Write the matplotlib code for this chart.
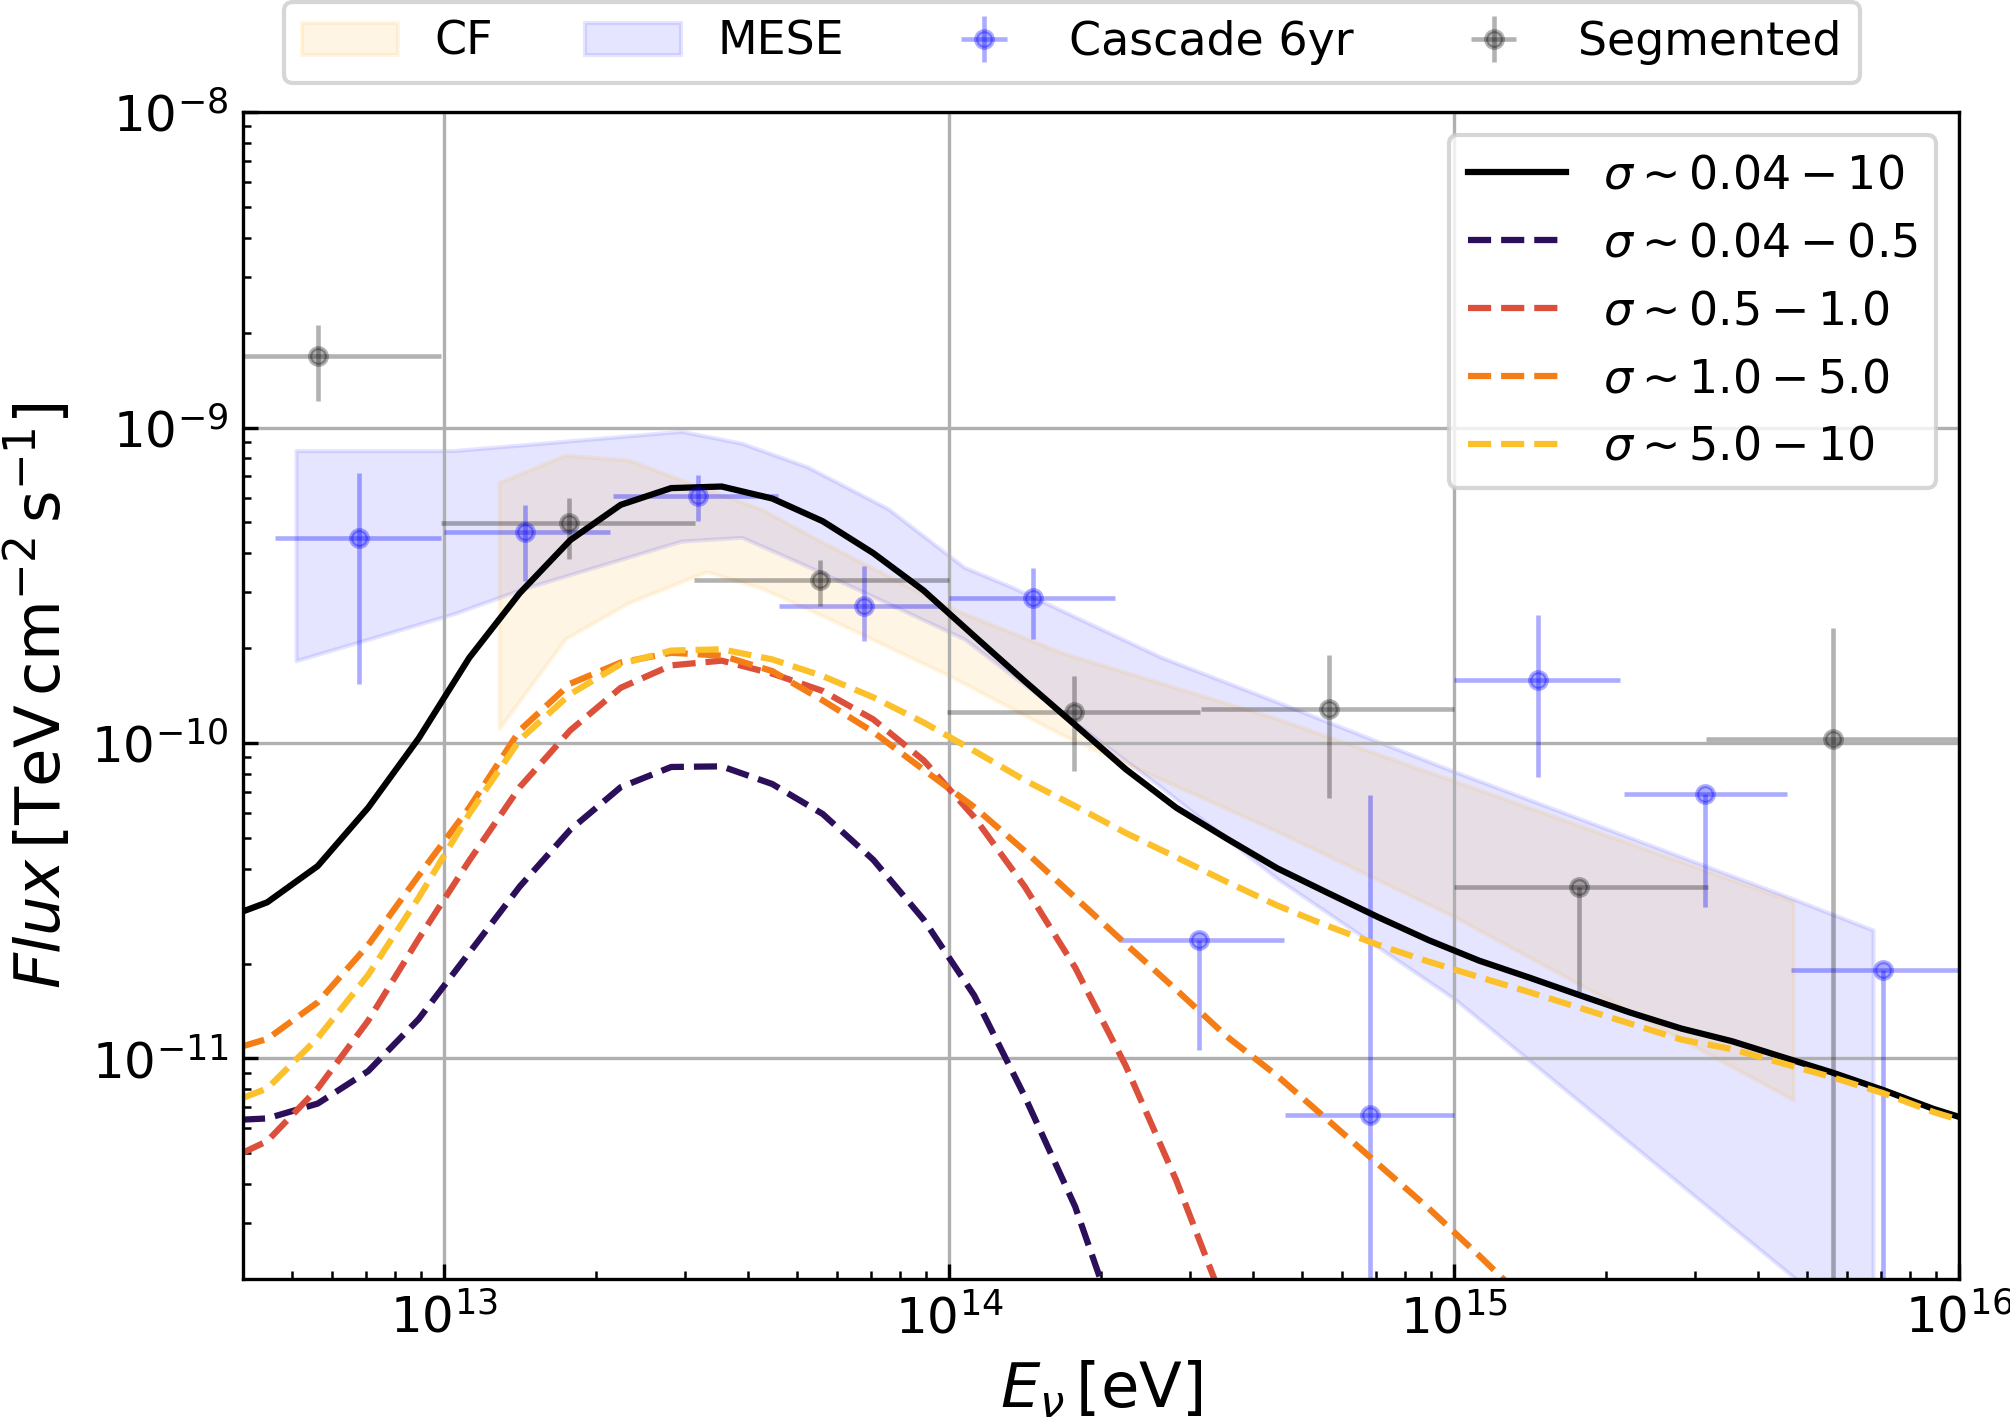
import numpy as np
import matplotlib.pyplot as plt

# model curves: log10(E / eV) grid and log10(flux)
log_e = [12.60, 12.65, 12.75, 12.85, 12.95, 13.05, 13.15, 13.25, 13.35, 13.45,
         13.55, 13.65, 13.75, 13.85, 13.95, 14.05, 14.15, 14.25, 14.35, 14.45,
         14.55, 14.65, 14.75, 14.85, 14.95, 15.05, 15.15, 15.25, 15.35, 15.45,
         15.55, 15.65, 15.75, 15.85, 15.95, 16.00]

flux_total = [-10.535, -10.505, -10.39, -10.205, -9.985, -9.73, -9.525, -9.357, -9.245, -9.192,
              -9.187, -9.225, -9.297, -9.398, -9.517, -9.661, -9.804, -9.943, -10.083, -10.205,
              -10.303, -10.397, -10.475, -10.552, -10.625, -10.69, -10.744, -10.80, -10.855, -10.905,
              -10.945, -10.995, -11.045, -11.10, -11.16, -11.185]
flux_s1 = [-11.194, -11.19, -11.143, -11.04, -10.875, -10.665, -10.455, -10.275, -10.14, -10.076,
           -10.074, -10.13, -10.225, -10.37, -10.56, -10.80, -11.12, -11.47, -11.93]
flux_s2 = [-11.30, -11.262, -11.095, -10.88, -10.62, -10.373, -10.14, -9.96, -9.825, -9.754,
           -9.739, -9.78, -9.835, -9.925, -10.055, -10.235, -10.455, -10.712, -11.023, -11.386,
           -11.80]
flux_s3 = [-10.962, -10.938, -10.822, -10.64, -10.42, -10.205, -9.96, -9.812, -9.745, -9.714,
           -9.723, -9.772, -9.865, -9.965, -10.085, -10.203, -10.342, -10.49, -10.637, -10.782,
           -10.93, -11.055, -11.195, -11.335, -11.475, -11.625, -11.78]
flux_s4 = [-11.126, -11.095, -10.935, -10.735, -10.49, -10.225, -9.99, -9.845, -9.75, -9.707,
           -9.703, -9.735, -9.788, -9.855, -9.935, -10.025, -10.118, -10.20, -10.285, -10.362,
           -10.44, -10.515, -10.58, -10.64, -10.693, -10.742, -10.79, -10.84, -10.89, -10.94,
           -10.97, -11.015, -11.06, -11.11, -11.17, -11.194]

model_labels = [r'$\sigma\sim0.04-10$', r'$\sigma\sim0.04-0.5$', r'$\sigma\sim0.5-1.0$',
                r'$\sigma\sim1.0-5.0$', r'$\sigma\sim5.0-10$']

# MESE and CF bands (log10 values)
mese_log_e = [12.707, 13.02, 13.155, 13.47, 13.59, 13.72, 13.88, 14.03, 14.125, 14.42,
              14.65, 15.0, 15.67, 15.83]
mese_hi = [-9.073, -9.073, -9.055, -9.012, -9.05, -9.125, -9.258, -9.443, -9.506, -9.728,
           -9.87, -10.09, -10.493, -10.593]
mese_lo = [-9.739, -9.59, -9.512, -9.36, -9.348, -9.44, -9.558, -9.67, -9.786, -10.14,
           -10.43, -10.81, -11.69, -11.9]

cf_log_e = [13.109, 13.24, 13.365, 13.52, 13.63, 13.75, 14.0, 14.22, 14.65, 15.0, 15.672]
cf_hi = [-9.174, -9.088, -9.103, -9.196, -9.26, -9.364, -9.57, -9.712, -9.923, -10.12, -10.503]
cf_lo = [-9.955, -9.67, -9.556, -9.457, -9.51, -9.597, -9.786, -9.971, -10.28, -10.55, -11.131]

# Cascade 6yr data points [eV], [TeV cm^-2 s^-1]
casc_e = [6.79e12, 1.45e13, 3.18e13, 6.79e13, 1.47e14, 3.13e14, 6.81e14, 1.47e15, 3.14e15, 7.06e15]
casc_e_lo = [4.62e12, 1.0e13, 2.16e13, 4.61e13, 1.0e14, 2.18e14, 4.62e14, 1.0e15, 2.17e15, 4.66e15]
casc_e_hi = [9.85e12, 2.13e13, 4.59e13, 9.64e13, 2.13e14, 4.60e14, 1.0e15, 2.13e15, 4.56e15, 1.0e16]
casc_f = [4.46e-10, 4.68e-10, 6.08e-10, 2.72e-10, 2.89e-10, 2.37e-11, 6.64e-12, 1.585e-10, 6.87e-11, 1.905e-11]
casc_f_hi = [7.16e-10, 5.70e-10, 7.06e-10, 3.64e-10, 3.58e-10, 2.37e-11, 6.85e-11, 2.55e-10, 6.87e-11, 1.905e-11]
casc_f_lo = [1.54e-10, 3.27e-10, 5.05e-10, 2.10e-10, 2.13e-10, 1.06e-11, 1e-13, 7.8e-11, 3.03e-11, 1e-13]

# Segmented data points
seg_e = [5.62e12, 1.77e13, 5.56e13, 1.77e14, 5.65e14, 1.77e15, 5.64e15]
seg_e_lo = [3.16e12, 9.85e12, 3.12e13, 9.9e13, 3.16e14, 1.0e15, 3.15e15]
seg_e_hi = [9.85e12, 3.14e13, 1.0e14, 3.14e14, 1.0e15, 3.18e15, 1.0e16]
seg_f = [1.69e-9, 4.98e-10, 3.28e-10, 1.256e-10, 1.28e-10, 3.49e-11, 1.03e-10]
seg_f_hi = [2.11e-9, 5.97e-10, 3.81e-10, 1.63e-10, 1.9e-10, 3.49e-11, 2.32e-10]
seg_f_lo = [1.21e-9, 3.82e-10, 2.72e-10, 8.15e-11, 6.67e-11, 1.63e-11, 1e-13]


def asym(center, lo, hi):
    c = np.array(center)
    return [c - np.array(lo), np.array(hi) - c]


fig = plt.figure(figsize=(6.7, 1420 / 300), dpi=300)
ax = fig.add_axes([0.1209, 0.0993, 0.8537, 0.8218])
ax.set_xscale('log')
ax.set_yscale('log')

e = 10 ** np.array(log_e)
mese = ax.fill_between(10 ** np.array(mese_log_e), 10 ** np.array(mese_lo), 10 ** np.array(mese_hi),
                       color='blue', alpha=0.1, label='MESE')
cf = ax.fill_between(10 ** np.array(cf_log_e), 10 ** np.array(cf_lo), 10 ** np.array(cf_hi),
                     color='orange', alpha=0.1, label='CF')

casc = ax.errorbar(casc_e, casc_f, xerr=asym(casc_e, casc_e_lo, casc_e_hi),
                   yerr=asym(casc_f, casc_f_lo, casc_f_hi), fmt='o', color='blue',
                   alpha=0.33, markersize=4, elinewidth=1.1, label='Cascade 6yr')
seg = ax.errorbar(seg_e, seg_f, xerr=asym(seg_e, seg_e_lo, seg_e_hi),
                  yerr=asym(seg_f, seg_f_lo, seg_f_hi), fmt='o', color='k',
                  alpha=0.3, markersize=4, elinewidth=1.1, label='Segmented')

colors = ['black', '#2b0f5a', '#dc4f3b', '#f57d15', '#fbc02a']
styles = ['-', '--', '--', '--', '--']
lines = []
for vals, c, ls, lab in zip([flux_total, flux_s1, flux_s2, flux_s3, flux_s4], colors, styles, model_labels):
    ln, = ax.plot(e[:len(vals)], 10 ** np.array(vals), color=c, ls=ls, lw=1.5, label=lab)
    lines.append(ln)

ax.set_xlim(4e12, 1e16)
ax.set_ylim(2e-12, 1e-8)
ax.grid(True)
ax.tick_params(which='both', direction='in', labelsize=12)

ax.set_xlabel(r'$E_{\nu}\,[\mathrm{eV}]$', fontsize=15)
ax.set_ylabel(r'$Flux\,[\mathrm{TeV\,cm^{-2}\,s^{-1}}]$', fontsize=15)

leg1 = ax.legend(handles=lines, loc='upper right', fontsize=11, handlelength=2.15)
ax.add_artist(leg1)
ax.legend(handles=[cf, mese, casc, seg], loc='lower center', bbox_to_anchor=(0.483, 1.005),
          ncol=4, fontsize=11, handlelength=2.1)

fig.savefig('out.png', dpi=300)
